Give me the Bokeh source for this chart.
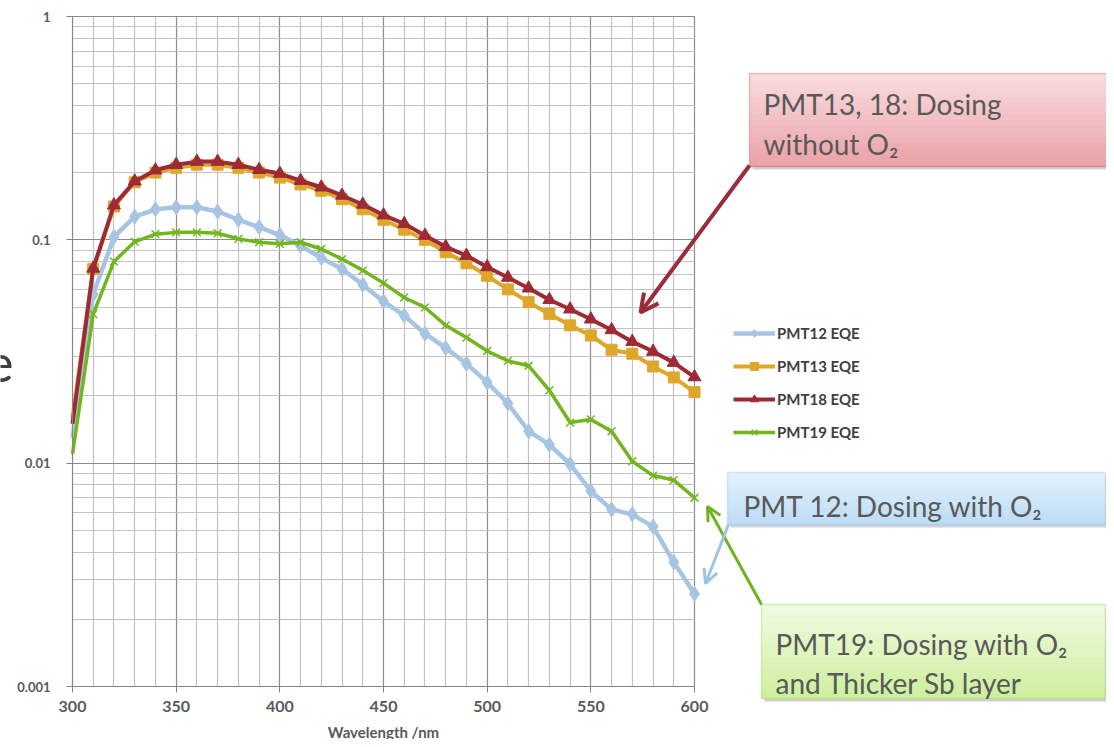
from bokeh.plotting import figure
from bokeh.models import (Range1d, FixedTicker, CustomJSTickFormatter, Label,
                          BoxAnnotation, Arrow, OpenHead, Legend, LegendItem)
from bokeh.embed import file_html
from bokeh.resources import INLINE

# ---------------- data ----------------
wavelength = [300, 310, 320, 330, 340, 350, 360, 370, 380, 390, 400,
              410, 420, 430, 440, 450, 460, 470, 480, 490, 500,
              510, 520, 530, 540, 550, 560, 570, 580, 590, 600]

pmt12 = [0.013, 0.057, 0.103, 0.127, 0.137, 0.140, 0.140, 0.134, 0.123, 0.114, 0.105,
         0.094, 0.083, 0.074, 0.063, 0.053, 0.0458, 0.038, 0.0328, 0.0279, 0.023,
         0.0185, 0.0139, 0.0121, 0.0099, 0.0075, 0.0062, 0.0059, 0.0052, 0.0036, 0.0026]

pmt13 = [0.016, 0.074, 0.141, 0.181, 0.200, 0.210, 0.217, 0.217, 0.210, 0.200, 0.190,
         0.177, 0.166, 0.152, 0.137, 0.123, 0.111, 0.100, 0.088, 0.0785, 0.069,
         0.060, 0.0526, 0.0466, 0.0414, 0.0373, 0.0322, 0.0309, 0.0271, 0.0242, 0.0208]

pmt18 = [0.015, 0.0745, 0.143, 0.183, 0.205, 0.217, 0.224, 0.224, 0.217, 0.206, 0.198,
         0.184, 0.172, 0.158, 0.144, 0.129, 0.118, 0.1045, 0.093, 0.085, 0.0756,
         0.0678, 0.0607, 0.0539, 0.0489, 0.0441, 0.0395, 0.0350, 0.0316, 0.0282, 0.0243]

pmt19 = [0.011, 0.0465, 0.080, 0.098, 0.106, 0.108, 0.108, 0.107, 0.101, 0.0975, 0.096,
         0.0975, 0.091, 0.082, 0.073, 0.064, 0.0552, 0.0498, 0.0414, 0.0365, 0.0318,
         0.0287, 0.0273, 0.0212, 0.0152, 0.0157, 0.0139, 0.0102, 0.0088, 0.0084, 0.0070]

series_labels = ["PMT12 EQE", "PMT13 EQE", "PMT18 EQE", "PMT19 EQE"]
x_ticks = [300, 350, 400, 450, 500, 550, 600]
x_minor = [v for v in range(310, 600, 10) if v % 50 != 0]
y_ticks = [0.001, 0.01, 0.1, 1]
y_minor = [k * 10.0 ** e for e in (-3, -2, -1) for k in range(2, 10)]

# -------- layout: canvas pixels <-> data (for placing annotations) --------
W, H = 1106, 739
def X(px):
    return 300 + (px - 72) * 300.0 / 622.0

def Y(py):
    return 10 ** (-3.0 * (py - 16) / 670.0)

FONT = "Lato"
GRAY = "#595959"

p = figure(width=W, height=H, x_range=Range1d(X(0), X(W)), y_range=Range1d(Y(H), Y(0)),
           y_axis_type="log", output_backend="svg", toolbar_location=None,
           min_border_left=0, min_border_right=0, min_border_top=0, min_border_bottom=0)
p.outline_line_color = None
p.background_fill_color = "white"
p.border_fill_color = "white"

# axes (pinned to the data box so the frame can hold the call-outs)
p.xaxis.ticker = FixedTicker(ticks=x_ticks, minor_ticks=x_minor)
p.yaxis.ticker = FixedTicker(ticks=y_ticks, minor_ticks=y_minor)
p.yaxis.formatter = CustomJSTickFormatter(code="return tick.toString();")
p.xaxis.fixed_location = 0.001
p.yaxis.fixed_location = 300
p.xaxis.bounds = (300, 600)
p.yaxis.bounds = (0.001, 1)
for ax in (p.xaxis, p.yaxis):
    ax.axis_line_color = "#868686"
    ax.major_tick_line_color = "#868686"
    ax.minor_tick_line_color = None
    ax.major_tick_in = 0
    ax.major_tick_out = 6
    ax.major_label_text_font = FONT
    ax.major_label_text_font_style = "bold"
    ax.major_label_text_color = GRAY
p.yaxis.major_label_text_font_size = "13px"
p.xaxis.major_label_text_font_size = "16px"
p.yaxis.major_label_standoff = 16
p.xaxis.major_label_standoff = 8
p.xaxis.axis_label = "Wavelength /nm"
p.xaxis.axis_label_text_font = FONT
p.xaxis.axis_label_text_font_style = "bold"
p.xaxis.axis_label_text_font_size = "15px"
p.xaxis.axis_label_text_color = GRAY
p.xaxis.axis_label_standoff = 8

p.xgrid.bounds = (300, 600)
p.xgrid.cross_bounds = (0.001, 1)
p.ygrid.bounds = (0.001, 1)
p.ygrid.cross_bounds = (300, 600)
for g in (p.xgrid, p.ygrid):
    g.grid_line_color = "#8c8c8c"
    g.grid_line_width = 1.2
    g.minor_grid_line_color = "#c2c2c2"
    g.minor_grid_line_width = 1.2

# series (lines through every point; markers from 310 nm on, as in the source chart)
c12, c13, c18, c19 = "#a7c5e2", "#dfa72a", "#9e2a36", "#72b61d"
l12 = p.line(wavelength, pmt12, line_color=c12, line_width=4.5)
s12 = p.scatter(wavelength[1:], pmt12[1:], marker="diamond", size=15, fill_color=c12, line_color=c12)
l13 = p.line(wavelength, pmt13, line_color=c13, line_width=4)
s13 = p.scatter(wavelength[1:], pmt13[1:], marker="square", size=11, fill_color=c13, line_color=c13)
l18 = p.line(wavelength, pmt18, line_color=c18, line_width=4)
s18 = p.scatter(wavelength[1:], pmt18[1:], marker="triangle", size=13, fill_color=c18, line_color=c18)
l19 = p.line(wavelength, pmt19, line_color=c19, line_width=3.5)
s19 = p.scatter(wavelength[1:], pmt19[1:], marker="x", size=11, line_color=c19, line_width=1.5)

legend = Legend(items=[LegendItem(label=series_labels[0], renderers=[l12, s12]),
                       LegendItem(label=series_labels[1], renderers=[l13, s13]),
                       LegendItem(label=series_labels[2], renderers=[l18, s18]),
                       LegendItem(label=series_labels[3], renderers=[l19, s19])],
                location=(733, 297), glyph_width=42, glyph_height=20, label_height=20,
                spacing=13, padding=0, margin=0, label_standoff=2,
                label_text_font=FONT, label_text_font_size="15px", label_text_font_style="bold",
                label_text_color="#404040", background_fill_alpha=0, border_line_color=None)
p.add_layout(legend, "center")

# call-out boxes (vertical colour gradient in bands + shadow + border)
def mix(c0, c1, t):
    a = [int(c0[i:i + 2], 16) for i in (1, 3, 5)]
    b = [int(c1[i:i + 2], 16) for i in (1, 3, 5)]
    return "#%02x%02x%02x" % tuple(round(a[k] + (b[k] - a[k]) * t) for k in range(3))

boxes = [
    dict(l=749, r=1125, t=73, b=166, c0="#fadde0", c1="#e9a1a7", line="#b8454e"),
    dict(l=727, r=1105, t=472, b=524, c0="#e3f2fd", c1="#bcdcf6", line="#95b8da"),
    dict(l=761, r=1105, t=604, b=698, c0="#f1fbe2", c1="#cdef9c", line="#8fc74a"),
]
NB = 16
for b in boxes:
    p.add_layout(BoxAnnotation(left=X(b["l"] + 3), right=X(b["r"] + 3), top=Y(b["t"] + 3),
                               bottom=Y(b["b"] + 3), fill_color="#9a9a9a", fill_alpha=0.45,
                               line_color=None))
    h = (b["b"] - b["t"]) / NB
    for k in range(NB):
        p.add_layout(BoxAnnotation(left=X(b["l"]), right=X(b["r"]),
                                   top=Y(b["t"] + k * h), bottom=Y(b["t"] + (k + 1) * h + 0.6),
                                   fill_color=mix(b["c0"], b["c1"], (k + 0.5) / NB),
                                   fill_alpha=1.0, line_color=None))
    p.add_layout(BoxAnnotation(left=X(b["l"]), right=X(b["r"]), top=Y(b["t"]), bottom=Y(b["b"]),
                               fill_alpha=0, line_color=b["line"], line_width=1.5))

texts = [
    ("PMT13, 18: Dosing", 763, 103),
    ("without O\u2082", 763, 143),
    ("PMT 12: Dosing with O\u2082", 743, 505),
    ("PMT19: Dosing with O\u2082", 775, 643),
    ("and Thicker Sb layer", 775, 682),
]
for t, px, py in texts:
    p.add_layout(Label(x=X(px), y=Y(py), text=t, text_font=FONT, text_font_size="28px",
                       text_color=GRAY, text_align="left", text_baseline="alphabetic"))

# partially visible slide letter on the left edge
p.add_layout(Label(x=X(13), y=Y(362), text="e", text_font=FONT, text_font_size="52px",
                   text_color="#404040", text_align="right", text_baseline="alphabetic"))

# arrows
arrows = [
    (749, 165, 640, 312, "#9b2d3a", 4, 18),
    (761, 604, 707, 506, "#6fb320", 3, 14),
    (728, 524, 705, 583, "#9dc3e6", 3, 14),
]
for x0, y0, x1, y1, col, w, hs in arrows:
    p.add_layout(Arrow(end=OpenHead(size=hs, line_color=col, line_width=w),
                       x_start=X(x0), y_start=Y(y0), x_end=X(x1), y_end=Y(y1),
                       line_color=col, line_width=w))

open("out.html", "w").write(file_html(p, INLINE))
